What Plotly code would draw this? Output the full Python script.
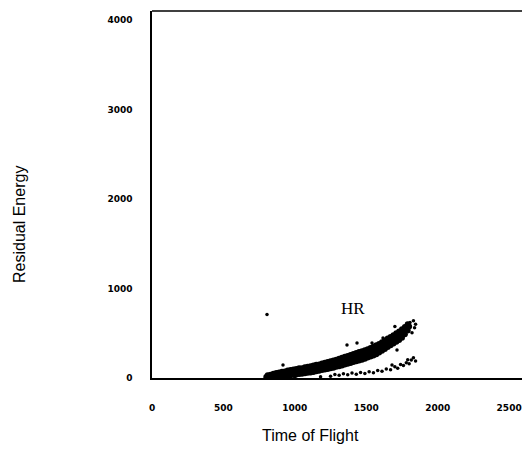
import plotly.graph_objects as go

# Main branch of the HR locus: centre ridge, upper edge and lower edge of the band
tof_centre = [800, 820, 840, 860, 880, 900, 920, 940, 960, 980, 1000, 1020, 1040, 1060, 1080,
              1100, 1120, 1140, 1160, 1180, 1200, 1220, 1240, 1260, 1280, 1300, 1320, 1340, 1360,
              1380, 1400, 1420, 1440, 1460, 1480, 1500, 1520, 1540, 1560, 1580, 1600, 1620, 1640,
              1660, 1680, 1700, 1720, 1740, 1760, 1780, 1800]
energy_centre = [12, 17, 23, 29, 35, 40, 45, 50, 55, 60, 65, 70, 75, 80, 85,
                 90, 97, 104, 111, 118, 125, 133, 141, 149, 157, 165, 175, 185, 195,
                 205, 215, 224, 234, 243, 253, 262, 276, 290, 303, 318, 339, 359, 380,
                 400, 420, 440, 462, 484, 510, 547, 575]

tof_edges = [810, 830, 850, 870, 890, 910, 930, 950, 970, 990, 1010, 1030, 1050, 1070, 1090,
             1110, 1130, 1150, 1170, 1190, 1210, 1230, 1250, 1270, 1290, 1310, 1330, 1350, 1370,
             1390, 1410, 1430, 1450, 1470, 1490, 1510, 1530, 1550, 1570, 1590, 1610, 1630, 1650,
             1670, 1690, 1710, 1730, 1750, 1770, 1790]
energy_upper = [30, 35, 48, 55, 62, 70, 72, 85, 88, 95, 100, 108, 110, 120, 125,
                130, 140, 148, 152, 162, 170, 178, 188, 195, 205, 215, 225, 238, 246,
                258, 268, 278, 290, 298, 310, 322, 335, 350, 365, 380, 398, 420, 440,
                458, 478, 500, 520, 545, 570, 600]
energy_lower = [3, 5, 8, 12, 15, 18, 22, 25, 30, 35, 40, 45, 48, 52, 58,
                62, 68, 75, 80, 88, 95, 100, 108, 115, 125, 132, 140, 150, 158,
                168, 178, 188, 196, 205, 215, 228, 240, 252, 265, 285, 305, 325, 345,
                365, 385, 405, 425, 450, 490, 530]

# Weaker lower branch below the main band
tof_branch = [1280, 1310, 1340, 1370, 1400, 1430, 1460, 1490, 1520, 1550, 1580, 1610, 1640,
              1670, 1680, 1700, 1720, 1740, 1760, 1780, 1790, 1800, 1815, 1830, 1845]
energy_branch = [40, 30, 48, 35, 55, 42, 62, 50, 70, 58, 85, 75, 100,
                 92, 145, 125, 110, 150, 140, 170, 205, 160, 200, 225, 190]

# Isolated events around the locus
tof_scatter = [805, 917, 1000, 1180, 1250, 1365, 1435, 1540, 1617, 1650, 1700, 1715,
               1806, 1820, 1830, 1838, 1845]
energy_scatter = [710, 145, 10, 15, 20, 369, 391, 391, 447, 360, 575, 313,
                  620, 505, 640, 560, 600]

x_ticks = [0, 500, 1000, 1500, 2000, 2500]
y_ticks = [0, 1000, 2000, 3000, 4000]

fig = go.Figure()
fig.add_trace(go.Scatter(x=tof_centre + tof_edges + tof_edges,
                         y=energy_centre + energy_upper + energy_lower,
                         mode="markers",
                         marker=dict(color="black", size=6, line=dict(width=0)),
                         showlegend=False))
fig.add_trace(go.Scatter(x=tof_branch, y=energy_branch, mode="markers",
                         marker=dict(color="black", size=3.5, line=dict(width=0)),
                         showlegend=False))
fig.add_trace(go.Scatter(x=tof_scatter, y=energy_scatter, mode="markers",
                         marker=dict(color="black", size=3.5, line=dict(width=0)),
                         showlegend=False))

tick_font = dict(family="DejaVu Sans", size=9, color="black", weight="bold")

# Plot area in pixels: x 152..522, y 11..378
PL, PW, PB, PH = 152, 370, 378, 367


def px(xp):
    return (xp - PL) / PW


def py(yp):
    return (PB - yp) / PH


fig.update_layout(
    width=522, height=459,
    margin=dict(l=152, r=0, t=11, b=81),
    paper_bgcolor="white", plot_bgcolor="white",
    xaxis=dict(range=[0, 2590], tickvals=x_ticks, ticktext=[str(v) for v in x_ticks],
               showgrid=False, zeroline=False, showline=True, linecolor="black", linewidth=1.5,
               ticks="outside", ticklen=20, tickcolor="rgba(0,0,0,0)", tickfont=tick_font),
    yaxis=dict(range=[0, 4100], tickvals=y_ticks, ticktext=[str(v) for v in y_ticks],
               showgrid=False, zeroline=False, showline=True, linecolor="black", linewidth=1.5,
               ticks="outside", ticklen=16, tickcolor="rgba(0,0,0,0)", tickfont=tick_font),
    shapes=[dict(type="line", xref="paper", yref="paper", x0=0, x1=1, y0=1, y1=1,
                 line=dict(color="black", width=1.5))],
    annotations=[
        dict(text="HR", x=1407, y=771, xref="x", yref="y", showarrow=False,
             xanchor="center", yanchor="middle",
             font=dict(family="Liberation Serif", size=17, color="black")),
        dict(text="Time of Flight", x=px(310), y=py(436), xref="paper", yref="paper",
             xanchor="center", yanchor="middle", showarrow=False,
             font=dict(family="Liberation Sans", size=16, color="black")),
        dict(text="Residual Energy", x=px(20), y=py(225), xref="paper", yref="paper",
             xanchor="center", yanchor="middle", textangle=-90, showarrow=False,
             font=dict(family="Liberation Sans", size=16, color="black")),
    ],
)

fig.write_html("out.html")
